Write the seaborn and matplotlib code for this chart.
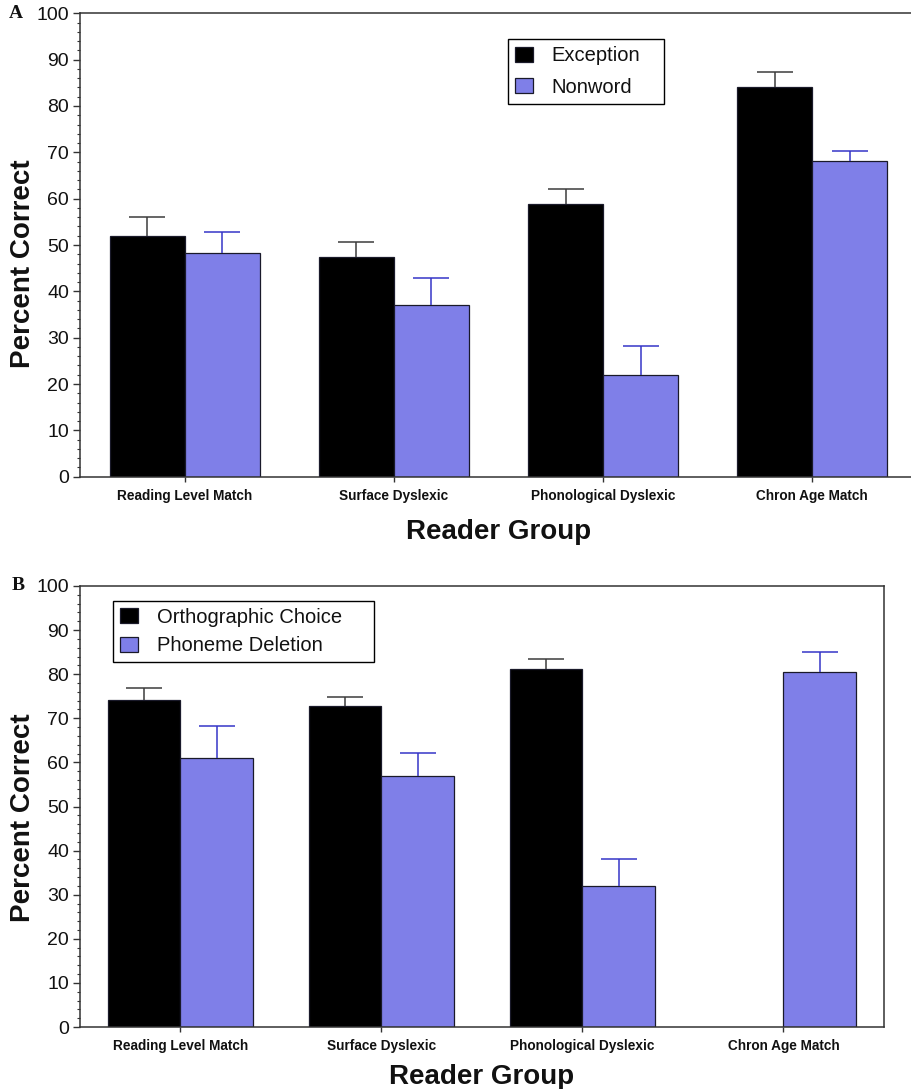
"""
Reading task accuracy by reader group (panels A and B).
"""

import matplotlib
matplotlib.use("Agg")
import matplotlib.pyplot as plt
import numpy as np
import pandas as pd
import seaborn as sns
from matplotlib.ticker import MultipleLocator

GROUPS = [
    "Reading Level Match",
    "Surface Dyslexic",
    "Phonological Dyslexic",
    "Chron Age Match",
]

# Panel A - reading of exception words and nonwords
EXCEPTION = [51.9, 47.4, 58.9, 84.2]
EXCEPTION_ERR = [4.2, 3.3, 3.2, 3.1]
NONWORD = [48.2, 37.1, 21.9, 68.1]
NONWORD_ERR = [4.7, 5.8, 6.4, 2.2]

# Panel B - orthographic choice and phoneme deletion (no ortho data for CA match)
ORTHO = [74.2, 72.7, 81.1, np.nan]
ORTHO_ERR = [2.6, 2.2, 2.3, np.nan]
PHONEME = [61.1, 56.9, 32.0, 80.4]
PHONEME_ERR = [7.2, 5.3, 6.0, 4.6]

BLACK = "#000000"
BLUE = "#7f7fe8"
ERR_COLORS = ["#3c3c3c", "#3535c8"]

sns.set_style("white")
plt.rcParams["font.family"] = ["Liberation Sans", "DejaVu Sans"]
plt.rcParams["text.color"] = "#111111"
plt.rcParams["axes.labelcolor"] = "#111111"
plt.rcParams["xtick.labelcolor"] = "#111111"
plt.rcParams["ytick.labelcolor"] = "#111111"


def long_frame(names, values):
    rows = []
    for name, vals in zip(names, values):
        for group, v in zip(GROUPS, vals):
            rows.append({"group": group, "task": name, "value": v})
    return pd.DataFrame(rows)


def draw_panel(ax, names, values, errors, letter, legend_box, labelspacing,
               xlabelpad, ylabel_pos):
    df = long_frame(names, values)
    sns.barplot(
        data=df, x="group", y="value", hue="task",
        order=GROUPS, hue_order=names, palette=[BLACK, BLUE], saturation=1,
        width=0.718, gap=0, errorbar=None,
        edgecolor="#1a1a2a", linewidth=0.9, ax=ax,
    )

    # one-sided error bars on top of each bar
    for container, errs, color in zip(ax.containers, errors, ERR_COLORS):
        xs, hs, es = [], [], []
        for patch in container.patches:
            h = patch.get_height()
            if np.isnan(h):
                continue
            xc = patch.get_x() + patch.get_width() / 2
            idx = int(round(xc))
            xs.append(xc)
            hs.append(h)
            es.append(errs[idx])
        _, caps, _ = ax.errorbar(
            xs, hs, yerr=[np.zeros(len(es)), es], fmt="none",
            ecolor=color, elinewidth=1.1, capsize=13, capthick=1.1, zorder=3,
        )
        caps[0].set_visible(False)  # no cap at the bar top

    ax.set_xlim(-0.5, 3.5)
    ax.set_ylim(0, 100)
    ax.yaxis.set_major_locator(MultipleLocator(10))
    ax.yaxis.set_minor_locator(MultipleLocator(2))
    ax.tick_params(axis="y", which="major", direction="out", length=5,
                   width=1.0, color="#333333", labelsize=14, pad=3, left=True)
    ax.tick_params(axis="y", which="minor", direction="out", length=2.5,
                   width=0.8, color="#333333", left=True)
    ax.tick_params(axis="x", direction="out", length=3.5, width=1.0,
                   color="#333333", pad=5, bottom=True)
    for lab in ax.get_xticklabels():
        lab.set_fontweight("bold")
        lab.set_fontsize(9.8)

    for spine in ax.spines.values():
        spine.set_visible(True)
        spine.set_color("#333333")
        spine.set_linewidth(1.1)

    ax.set_xlabel("Reader Group", fontsize=20, fontweight="bold",
                  labelpad=xlabelpad)
    ax.set_ylabel("Percent Correct", fontsize=20, fontweight="bold")
    ax.yaxis.set_label_coords(*ylabel_pos)

    handles, labels = ax.get_legend_handles_labels()
    leg = ax.legend(
        handles, labels, loc="upper left", bbox_to_anchor=legend_box,
        mode="expand", borderaxespad=0, fontsize=14.5, frameon=True,
        fancybox=False, edgecolor="#000000", framealpha=1, handlelength=0.9,
        handleheight=0.75, handletextpad=0.9, labelspacing=labelspacing,
        borderpad=0.35,
    )
    leg.get_frame().set_linewidth(1.0)

    ax.text(-0.085, 1.0, letter, transform=ax.transAxes, fontsize=14,
            fontweight="bold", family=["Liberation Serif", "DejaVu Serif"],
            ha="left", va="center")


fig = plt.figure(figsize=(9.12, 10.89), dpi=100)
ax_a = fig.add_axes([80 / 912, 1 - 476.7 / 1089, 837 / 912, 463.4 / 1089])
ax_b = fig.add_axes([80 / 912, 1 - 1027 / 1089, 804 / 912, 441 / 1089])

draw_panel(ax_a, ["Exception", "Nonword"], [EXCEPTION, NONWORD],
           [EXCEPTION_ERR, NONWORD_ERR], "A",
           (0.5117, 0.804, 0.1864, 0.14), 0.62, 12, (-0.053, 0.459))
draw_panel(ax_b, ["Orthographic Choice", "Phoneme Deletion"], [ORTHO, PHONEME],
           [ORTHO_ERR, PHONEME_ERR], "B",
           (0.0414, 0.8267, 0.3246, 0.14), 0.48, 8, (-0.055, 0.474))

fig.savefig("out.png", dpi=100)
